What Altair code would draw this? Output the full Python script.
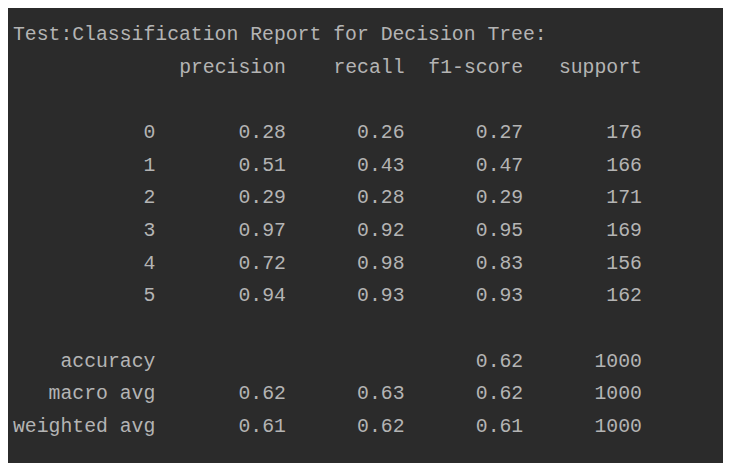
import altair as alt
import pandas as pd

title = "Test:Classification Report for Decision Tree:"
headers = ["precision", "recall", "f1-score", "support"]
labels = ["0", "1", "2", "3", "4", "5", "accuracy", "macro avg", "weighted avg"]
precision = ["0.28", "0.51", "0.29", "0.97", "0.72", "0.94", "", "0.62", "0.61"]
recall = ["0.26", "0.43", "0.28", "0.92", "0.98", "0.93", "", "0.63", "0.62"]
f1 = ["0.27", "0.47", "0.29", "0.95", "0.83", "0.93", "0.62", "0.62", "0.61"]
support = ["176", "166", "171", "169", "156", "162", "1000", "1000", "1000"]
line_of_row = [3, 4, 5, 6, 7, 8, 10, 11, 12]

# right edge of each column, in characters
col_end = [12, 23, 33, 43, 53]

cells = []
for h, c in zip(headers, col_end[1:]):
    cells.append({"line": 1, "col": c, "text": h})
for i, line in enumerate(line_of_row):
    row = [labels[i], precision[i], recall[i], f1[i], support[i]]
    for val, c in zip(row, col_end):
        if val:
            cells.append({"line": line, "col": c, "text": val})
df = pd.DataFrame(cells)
title_df = pd.DataFrame({"line": [0], "col": [0], "text": [title]})

fg = "#b4b4b4"
font = "Liberation Mono"
x = alt.X("col:Q").scale(domain=[-5 / 12, 718 / 12], nice=False, zero=False).axis(None)
y = alt.Y("line:Q").scale(domain=[-24 / 33, 431 / 33], nice=False, zero=False, reverse=True).axis(None)

cols = alt.Chart(df).mark_text(align="right", baseline="middle", font=font, fontSize=20, color=fg).encode(
    x=x, y=y, text="text:N"
)
head = alt.Chart(title_df).mark_text(align="left", baseline="middle", font=font, fontSize=20, color=fg).encode(
    x=x, y=y, text="text:N"
)

chart = (
    (head + cols)
    .properties(width=723, height=455, padding=0, autosize=alt.AutoSizeParams(type="none"), background="#2b2b2b")
    .configure_view(stroke=None)
)
chart.save("out.html", embed_options={"renderer": "svg", "actions": False})
